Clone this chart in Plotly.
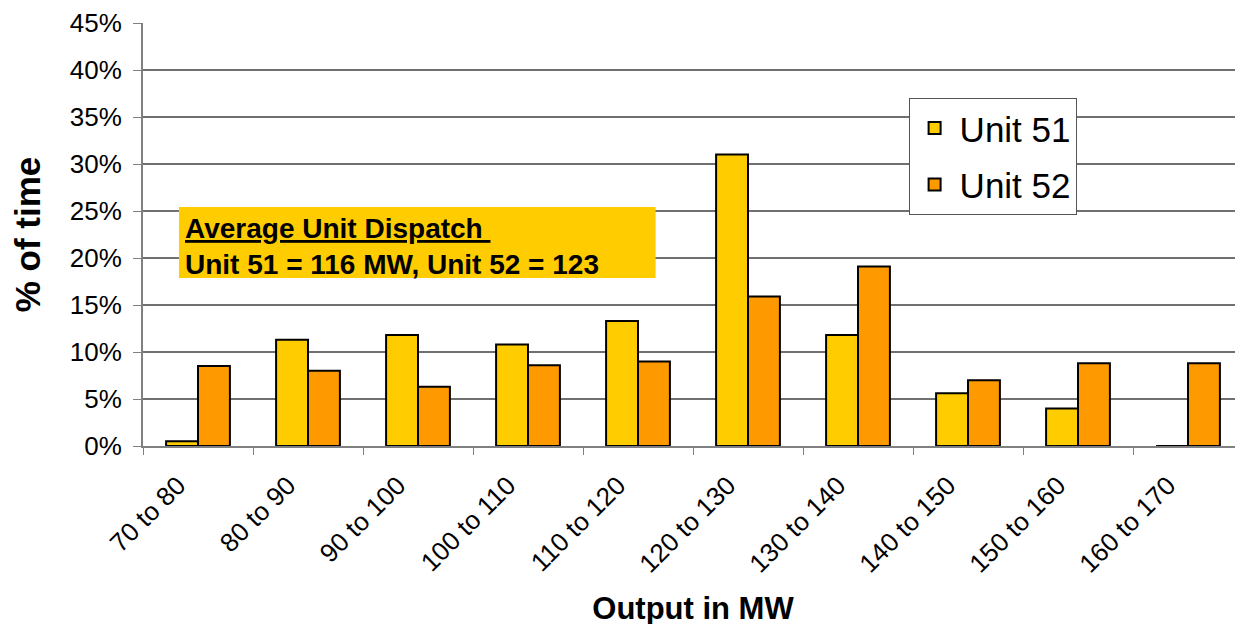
import plotly.graph_objects as go

categories = ["70 to 80", "80 to 90", "90 to 100", "100 to 110", "110 to 120",
              "120 to 130", "130 to 140", "140 to 150", "150 to 160", "160 to 170"]
unit51 = [0.5, 11.3, 11.8, 10.8, 13.3, 31.0, 11.8, 5.6, 4.0, 0.0]
unit52 = [8.5, 8.0, 6.3, 8.6, 9.0, 15.9, 19.1, 7.0, 8.8, 8.8]
y_ticks = [0, 5, 10, 15, 20, 25, 30, 35, 40, 45]

FONT = "Arial, Liberation Sans, sans-serif"

fig = go.Figure()
fig.add_trace(go.Bar(x=categories, y=unit51, name="Unit 51", legendgroup="a",
                     marker=dict(color="#FFCC00", line=dict(color="black", width=2))))
fig.add_trace(go.Bar(x=categories, y=unit52, name="Unit 52", legendgroup="b",
                     marker=dict(color="#FF9900", line=dict(color="black", width=2))))

fig.update_layout(
    width=1243, height=624,
    margin=dict(l=135, r=8, t=15, b=186),
    plot_bgcolor="white", paper_bgcolor="white",
    font=dict(family=FONT, color="black"),
    barmode="group", bargap=0.42, bargroupgap=0,
    showlegend=True,
    legend=dict(x=0.696, y=0.823, xanchor="left", yanchor="top",
                bordercolor="#555", borderwidth=1, bgcolor="white",
                font=dict(size=35, family=FONT), traceorder="grouped",
                tracegroupgap=8, itemwidth=40),
)
fig.update_xaxes(
    tickangle=-45, tickfont=dict(size=26), showgrid=False, automargin=False,
    showline=True, linecolor="#808080", linewidth=2,
    ticks="outside", tickson="boundaries", ticklen=7, tickcolor="#808080",
    ticklabelstandoff=12, ticklabelshift=-20,
    title=dict(text="<b>Output in MW</b>", font=dict(size=31), standoff=20),
)
fig.update_yaxes(
    range=[0, 45], tickvals=y_ticks, ticktext=[f"{v}%" for v in y_ticks],
    tickfont=dict(size=26), showgrid=True, gridcolor="#707070", gridwidth=1.5,
    showline=True, linecolor="#808080", linewidth=2, automargin=False,
    ticks="outside", ticklen=8, tickcolor="#808080", zeroline=False,
    ticklabelstandoff=6,
    title=dict(text="<b>% of time</b>", font=dict(size=35), standoff=20),
)

fig.add_shape(type="rect", xref="paper", yref="paper", x0=0.0327, x1=0.466,
              y0=0.397, y1=0.565, fillcolor="#FFCC00", line=dict(width=0), layer="above")
fig.add_annotation(xref="paper", yref="paper", x=0.036, y=0.515, xanchor="left", yanchor="middle",
                   text="<b><u>Average Unit Dispatch&nbsp;</u></b>", showarrow=False,
                   font=dict(size=28, family=FONT, color="black"))
fig.add_annotation(xref="paper", yref="paper", x=0.036, y=0.43, xanchor="left", yanchor="middle",
                   text="<b>Unit 51 = 116 MW, Unit 52 = 123</b>", showarrow=False,
                   font=dict(size=28, family=FONT, color="black"))

fig.write_html("out.html")
